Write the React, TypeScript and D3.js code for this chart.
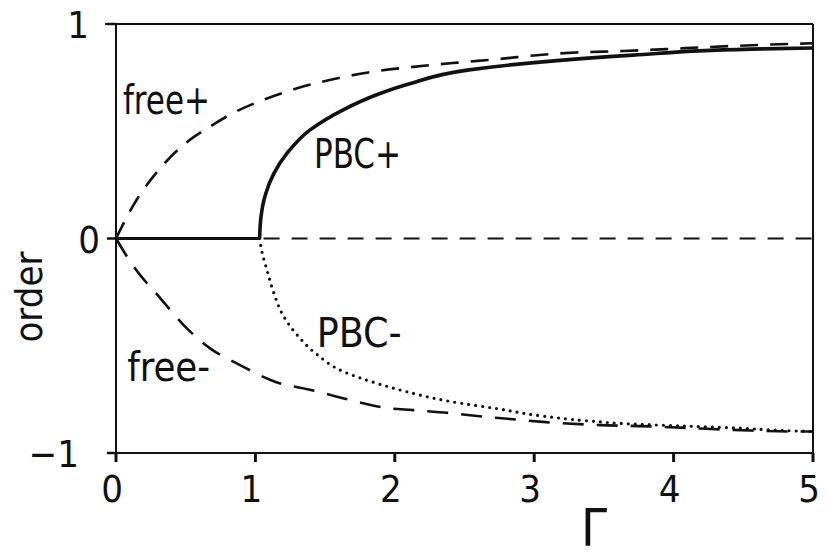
import React from 'react';
import * as d3 from 'd3';

const W = 829;
const H = 560;

// values
const gammaFreePlus = [0, 0.12, 0.32, 0.51, 0.67, 0.84, 1.05, 1.3, 1.61, 1.87, 2.13, 2.45, 2.75, 3.06, 3.3, 3.64, 3.95, 4.26, 4.52, 4.83, 5.0];
const orderFreePlus = [0, 0.15, 0.33, 0.45, 0.52, 0.585, 0.645, 0.7, 0.75, 0.78, 0.8, 0.82, 0.837, 0.857, 0.867, 0.874, 0.883, 0.893, 0.9, 0.907, 0.91];

const gammaFreeMinus = [0, 0.12, 0.32, 0.48, 0.67, 0.89, 1.15, 1.39, 1.68, 1.94, 2.13, 2.4, 2.63, 2.85, 3.06, 3.47, 3.83, 4.19, 4.55, 4.91, 5.0];
const orderFreeMinus = [0, -0.125, -0.28, -0.4, -0.51, -0.59, -0.67, -0.705, -0.753, -0.79, -0.8, -0.814, -0.83, -0.843, -0.855, -0.87, -0.876, -0.886, -0.895, -0.9, -0.9];

const gammaPbcPlus = [1.03, 1.04, 1.07, 1.13, 1.23, 1.39, 1.63, 1.87, 2.1, 2.52, 3.0, 3.71, 4.55, 5.0];
const orderPbcPlus = [0, 0.1, 0.2, 0.3, 0.4, 0.505, 0.6, 0.67, 0.72, 0.785, 0.82, 0.855, 0.883, 0.888];

const gammaPbcMinus = [1.03, 1.05, 1.08, 1.13, 1.2, 1.3, 1.44, 1.63, 1.87, 2.06, 2.4, 2.75, 3.04, 3.38, 3.71, 4.07, 4.43, 4.78, 5.0];
const orderPbcMinus = [0, -0.07, -0.14, -0.25, -0.36, -0.45, -0.54, -0.62, -0.675, -0.71, -0.76, -0.795, -0.826, -0.85, -0.865, -0.874, -0.883, -0.895, -0.9];

const gammaCritical = 1.03;
const xTicks = [0, 1, 2, 3, 4, 5];
const yTicks = [-1, 0, 1];

const ink = '#111';
const font = "'DejaVu Sans Condensed', 'DejaVu Sans', sans-serif";

const zip = (xs: number[], ys: number[]) => xs.map((g, i) => [g, ys[i]] as [number, number]);

export default function App() {
  const x = d3.scaleLinear().domain([0, 5]).range([116, 813]);
  const y = d3.scaleLinear().domain([-1, 1]).range([453, 24]);

  const freeLine = d3
    .line<[number, number]>()
    .x((d) => x(d[0]))
    .y((d) => y(d[1]))
    .curve(d3.curveMonotoneX);

  // PBC branches start vertically at the critical point
  const pbcLine = d3
    .line<[number, number]>()
    .x((d) => x(d[0]))
    .y((d) => y(d[1]))
    .curve(d3.curveMonotoneY);

  const labels = [
    { text: 'free+', g: 0.05, v: 0.58, len: 87 },
    { text: 'free-', g: 0.08, v: -0.665, len: 83 },
    { text: 'PBC+', g: 1.42, v: 0.33, len: 87 },
    { text: 'PBC-', g: 1.44, v: -0.506, len: 85 },
  ];

  return (
    <svg
      width={W}
      height={H}
      style={{ position: 'absolute', left: 0, top: 0, background: '#fff' }}
      fontFamily={font}
    >
      <rect width={W} height={H} fill="#fff" />

      {/* frame */}
      <line x1={x(0)} x2={x(0)} y1={y(1)} y2={y(-1)} stroke={ink} strokeWidth={2} />
      <line x1={x(5)} x2={x(5)} y1={y(1)} y2={y(-1)} stroke={ink} strokeWidth={2} />
      <line x1={x(0) - 11} x2={x(5)} y1={y(1)} y2={y(1)} stroke={ink} strokeWidth={2} />
      <line x1={x(0) - 9} x2={x(5)} y1={y(-1)} y2={y(-1)} stroke={ink} strokeWidth={2} />

      {/* y ticks */}
      {yTicks.map((t) => (
        <g key={'y' + t}>
          <line x1={x(0) - 9} x2={x(0)} y1={y(t)} y2={y(t)} stroke={ink} strokeWidth={2.5} />
          <text
            x={t === -1 ? 79 : t === 0 ? 100 : 89}
            y={y(t) + 14}
            fontSize={38}
            textAnchor="end"
            fill={ink}
          >
            {t === -1 ? '\u22121' : String(t)}
          </text>
        </g>
      ))}

      {/* x ticks */}
      {xTicks.map((t) => (
        <g key={'x' + t}>
          <line x1={x(t)} x2={x(t)} y1={y(-1)} y2={y(-1) + 9} stroke={ink} strokeWidth={3} />
          <text x={x(t) - 4} y={502} fontSize={38} textAnchor="middle" fill={ink}>
            {t}
          </text>
        </g>
      ))}

      {/* zero line */}
      <line x1={x(0)} x2={x(gammaCritical)} y1={y(0)} y2={y(0)} stroke={ink} strokeWidth={3} />
      <line
        x1={x(gammaCritical) + 4}
        x2={x(5)}
        y1={y(0)}
        y2={y(0)}
        stroke={ink}
        strokeWidth={2}
        strokeDasharray="16 12"
      />

      {/* curves */}
      <path d={freeLine(zip(gammaFreePlus, orderFreePlus)) || ''} fill="none" stroke={ink} strokeWidth={2.6} strokeDasharray="18 12" />
      <path d={freeLine(zip(gammaFreeMinus, orderFreeMinus)) || ''} fill="none" stroke={ink} strokeWidth={2.6} strokeDasharray="21 13" />
      <path d={pbcLine(zip(gammaPbcPlus, orderPbcPlus)) || ''} fill="none" stroke={ink} strokeWidth={3.6} />
      <path
        d={pbcLine(zip(gammaPbcMinus, orderPbcMinus)) || ''}
        fill="none"
        stroke={ink}
        strokeWidth={3.2}
        strokeLinecap="round"
        strokeDasharray="0 7"
      />

      {/* curve labels */}
      {labels.map((l) => (
        <text
          key={l.text}
          x={x(l.g)}
          y={y(l.v)}
          fontSize={40}
          fill={ink}
          textLength={l.len}
          lengthAdjust="spacingAndGlyphs"
        >
          {l.text}
        </text>
      ))}

      {/* axis titles */}
      <text
        transform={`translate(42, 297) rotate(-90)`}
        fontSize={38}
        textAnchor="middle"
        fill={ink}
      >
        order
      </text>
      <text x={594} y={546} fontSize={52} textAnchor="middle" fill={ink}>
        Γ
      </text>
    </svg>
  );
}
